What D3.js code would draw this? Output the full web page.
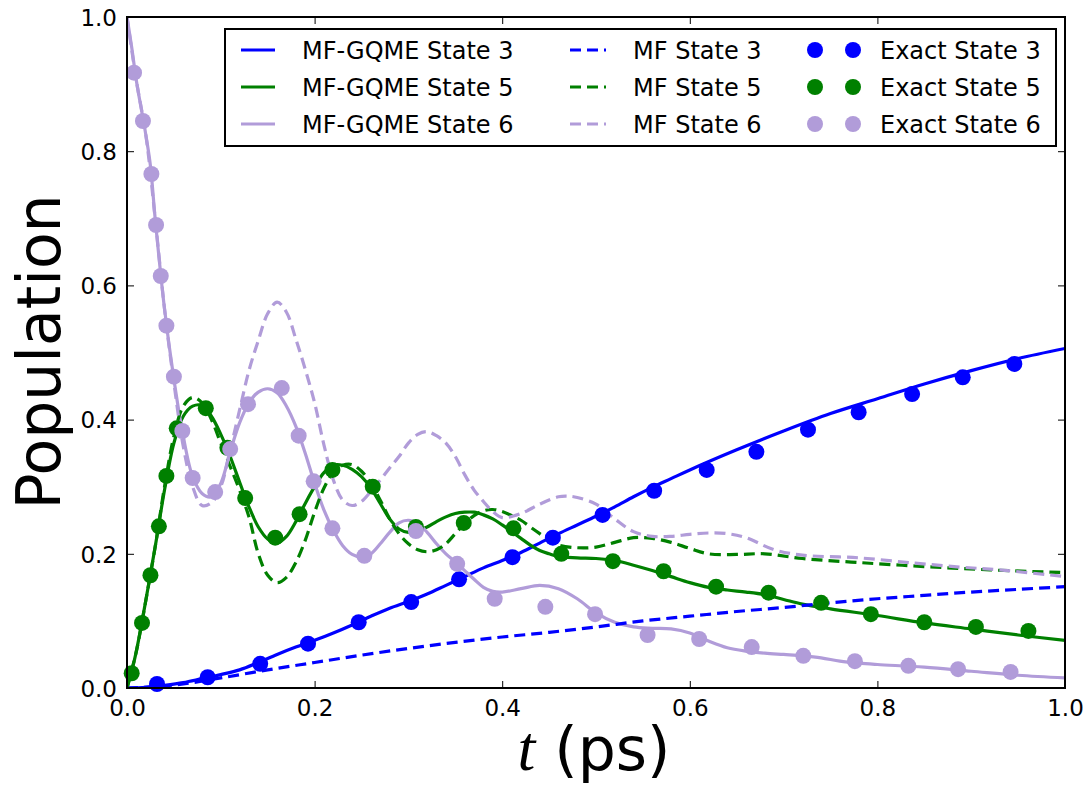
<!DOCTYPE html>
<html>
<head>
<meta charset="utf-8">
<script src="https://cdn.jsdelivr.net/npm/d3@7"></script>
<style>
  html, body { margin: 0; padding: 0; background: #fff; }
  svg text { font-family: "DejaVu Sans", sans-serif; }
</style>
</head>
<body>
<svg id="chart" width="1086" height="790"></svg>
<script>
// ---------------- data ----------------
const xTicks = [0.0, 0.2, 0.4, 0.6, 0.8, 1.0];
const yTicks = [0.0, 0.2, 0.4, 0.6, 0.8, 1.0];

// MF-GQME (solid) curves: [t, population]
const gqme3 = [[0,0],[0.02,0.001],[0.04,0.004],[0.06,0.008],[0.08,0.014],[0.10,0.020],[0.12,0.027],[0.14,0.038],[0.16,0.050],[0.18,0.061],[0.20,0.071],[0.22,0.082],[0.24,0.094],[0.26,0.107],[0.28,0.119],[0.30,0.129],[0.32,0.140],[0.34,0.153],[0.36,0.166],[0.38,0.179],[0.40,0.190],[0.42,0.202],[0.44,0.216],[0.46,0.230],[0.48,0.243],[0.50,0.256],[0.52,0.270],[0.54,0.285],[0.56,0.299],[0.58,0.312],[0.60,0.325],[0.65,0.355],[0.70,0.383],[0.75,0.409],[0.80,0.431],[0.85,0.453],[0.90,0.473],[0.95,0.491],[1.00,0.506]];
const gqme5 = [[0,0],[0.005,0.025],[0.01,0.055],[0.02,0.130],[0.03,0.210],[0.04,0.295],[0.05,0.365],[0.06,0.405],[0.07,0.420],[0.08,0.421],[0.09,0.405],[0.10,0.378],[0.11,0.345],[0.12,0.307],[0.13,0.270],[0.14,0.240],[0.15,0.222],[0.16,0.216],[0.17,0.226],[0.18,0.248],[0.19,0.275],[0.20,0.300],[0.21,0.321],[0.22,0.332],[0.23,0.332],[0.24,0.326],[0.25,0.315],[0.26,0.298],[0.27,0.275],[0.28,0.252],[0.29,0.237],[0.30,0.232],[0.31,0.235],[0.32,0.240],[0.33,0.248],[0.34,0.255],[0.35,0.260],[0.36,0.262],[0.37,0.262],[0.38,0.258],[0.39,0.252],[0.40,0.243],[0.41,0.233],[0.42,0.223],[0.43,0.213],[0.44,0.205],[0.45,0.200],[0.46,0.196],[0.48,0.194],[0.50,0.193],[0.52,0.190],[0.54,0.183],[0.56,0.175],[0.58,0.166],[0.60,0.157],[0.62,0.150],[0.64,0.146],[0.66,0.143],[0.68,0.139],[0.70,0.132],[0.72,0.125],[0.75,0.118],[0.80,0.108],[0.85,0.097],[0.90,0.088],[0.95,0.079],[1.00,0.071]];
const gqme6 = [[0,1.0],[0.005,0.955],[0.01,0.905],[0.02,0.825],[0.025,0.778],[0.03,0.700],[0.04,0.565],[0.05,0.460],[0.06,0.375],[0.07,0.315],[0.08,0.290],[0.09,0.285],[0.10,0.305],[0.11,0.352],[0.12,0.395],[0.13,0.425],[0.14,0.441],[0.15,0.446],[0.16,0.440],[0.17,0.420],[0.18,0.390],[0.19,0.350],[0.20,0.305],[0.21,0.265],[0.22,0.235],[0.23,0.212],[0.24,0.199],[0.25,0.195],[0.26,0.200],[0.27,0.215],[0.28,0.232],[0.29,0.246],[0.30,0.250],[0.31,0.245],[0.32,0.232],[0.33,0.215],[0.34,0.200],[0.35,0.188],[0.36,0.175],[0.37,0.162],[0.38,0.150],[0.39,0.144],[0.40,0.143],[0.42,0.148],[0.44,0.153],[0.46,0.148],[0.48,0.133],[0.50,0.112],[0.52,0.098],[0.54,0.091],[0.56,0.089],[0.58,0.088],[0.60,0.082],[0.62,0.070],[0.64,0.060],[0.66,0.055],[0.68,0.052],[0.70,0.050],[0.72,0.048],[0.74,0.045],[0.76,0.040],[0.78,0.037],[0.80,0.035],[0.85,0.031],[0.90,0.025],[0.95,0.019],[1.00,0.015]];

// MF (dashed) curves
const mf3 = [[0,0],[0.03,0.002],[0.06,0.006],[0.10,0.015],[0.15,0.027],[0.20,0.038],[0.25,0.049],[0.30,0.059],[0.35,0.068],[0.40,0.076],[0.45,0.083],[0.50,0.091],[0.55,0.100],[0.60,0.107],[0.65,0.114],[0.70,0.120],[0.75,0.127],[0.80,0.133],[0.85,0.138],[0.90,0.143],[0.95,0.147],[1.00,0.151]];
const mf5 = [[0,0],[0.01,0.055],[0.02,0.130],[0.03,0.210],[0.04,0.300],[0.05,0.375],[0.06,0.420],[0.07,0.433],[0.08,0.425],[0.09,0.400],[0.10,0.365],[0.11,0.330],[0.12,0.295],[0.13,0.255],[0.14,0.200],[0.15,0.168],[0.16,0.157],[0.17,0.165],[0.18,0.187],[0.19,0.220],[0.20,0.262],[0.21,0.298],[0.22,0.322],[0.23,0.332],[0.24,0.333],[0.25,0.323],[0.26,0.305],[0.27,0.280],[0.28,0.252],[0.29,0.230],[0.30,0.215],[0.31,0.206],[0.32,0.203],[0.33,0.206],[0.34,0.215],[0.35,0.230],[0.36,0.245],[0.37,0.257],[0.38,0.264],[0.39,0.266],[0.40,0.263],[0.41,0.257],[0.42,0.250],[0.43,0.240],[0.44,0.230],[0.45,0.220],[0.46,0.213],[0.48,0.209],[0.50,0.210],[0.52,0.217],[0.54,0.224],[0.56,0.223],[0.58,0.217],[0.60,0.208],[0.62,0.200],[0.65,0.199],[0.68,0.200],[0.72,0.193],[0.78,0.187],[0.85,0.181],[0.92,0.176],[1.00,0.172]];
const mf6 = [[0,1.0],[0.01,0.905],[0.02,0.825],[0.03,0.700],[0.04,0.565],[0.05,0.455],[0.06,0.360],[0.07,0.300],[0.08,0.272],[0.09,0.276],[0.10,0.300],[0.11,0.355],[0.12,0.414],[0.13,0.473],[0.14,0.518],[0.15,0.558],[0.16,0.575],[0.17,0.560],[0.18,0.520],[0.19,0.475],[0.20,0.425],[0.21,0.362],[0.22,0.310],[0.23,0.280],[0.24,0.272],[0.25,0.278],[0.26,0.293],[0.27,0.310],[0.28,0.328],[0.29,0.345],[0.30,0.365],[0.31,0.378],[0.32,0.382],[0.33,0.376],[0.34,0.365],[0.35,0.345],[0.36,0.318],[0.37,0.295],[0.38,0.278],[0.39,0.263],[0.40,0.254],[0.42,0.260],[0.44,0.274],[0.46,0.285],[0.47,0.286],[0.48,0.284],[0.50,0.274],[0.52,0.252],[0.54,0.233],[0.56,0.226],[0.58,0.226],[0.60,0.229],[0.62,0.231],[0.64,0.230],[0.66,0.224],[0.69,0.206],[0.72,0.198],[0.78,0.194],[0.84,0.186],[0.89,0.180],[0.93,0.176],[1.00,0.166]];

// Exact (dots)
const exact3 = [[0.032,0.006],[0.086,0.016],[0.142,0.036],[0.193,0.066],[0.247,0.098],[0.303,0.128],[0.354,0.162],[0.411,0.195],[0.454,0.224],[0.507,0.258],[0.562,0.294],[0.618,0.325],[0.671,0.352],[0.726,0.385],[0.780,0.411],[0.837,0.438],[0.891,0.463],[0.946,0.483]];
const exact5 = [[0.005,0.022],[0.016,0.097],[0.025,0.168],[0.034,0.241],[0.042,0.316],[0.053,0.387],[0.084,0.417],[0.107,0.358],[0.126,0.283],[0.158,0.224],[0.184,0.259],[0.219,0.325],[0.262,0.300],[0.308,0.240],[0.359,0.246],[0.412,0.238],[0.463,0.200],[0.518,0.189],[0.572,0.174],[0.628,0.151],[0.684,0.142],[0.740,0.127],[0.793,0.110],[0.850,0.098],[0.905,0.091],[0.961,0.085]];
const exact6 = [[0.0075,0.917],[0.017,0.845],[0.026,0.766],[0.031,0.690],[0.036,0.614],[0.042,0.540],[0.050,0.464],[0.059,0.383],[0.070,0.313],[0.094,0.292],[0.110,0.356],[0.129,0.423],[0.165,0.447],[0.183,0.376],[0.199,0.308],[0.219,0.238],[0.253,0.197],[0.308,0.234],[0.352,0.185],[0.392,0.133],[0.446,0.121],[0.499,0.110],[0.555,0.079],[0.610,0.073],[0.666,0.061],[0.721,0.048],[0.776,0.040],[0.833,0.033],[0.886,0.028],[0.942,0.024]];

const stateNames = ["State 3", "State 5", "State 6"];
const colors = ["#0000ff", "#008000", "#b19cd9"];

// ---------------- layout ----------------
const svg = d3.select("#chart");
const L = 127, R = 1065, T = 17, B = 688;
const x = d3.scaleLinear().domain([0, 1]).range([L, R]);
const y = d3.scaleLinear().domain([0, 1]).range([B, T]);

const line = d3.line().x(d => x(d[0])).y(d => y(d[1])).curve(d3.curveCatmullRom.alpha(0.5));

svg.append("defs").append("clipPath").attr("id", "clip")
  .append("rect").attr("x", L).attr("y", T).attr("width", R - L).attr("height", B - T);

const plot = svg.append("g").attr("clip-path", "url(#clip)");

const solid = [gqme3, gqme5, gqme6];
const dashed = [mf3, mf5, mf6];
const exact = [exact3, exact5, exact6];
const LW = 3.2;

solid.forEach((d, i) => {
  plot.append("path").datum(d).attr("d", line)
    .attr("fill", "none").attr("stroke", colors[i]).attr("stroke-width", LW);
});
dashed.forEach((d, i) => {
  plot.append("path").datum(d).attr("d", line)
    .attr("fill", "none").attr("stroke", colors[i]).attr("stroke-width", LW)
    .attr("stroke-dasharray", "11,6");
});
const dotsG = svg.append("g");
exact.forEach((d, i) => {
  dotsG.selectAll(null).data(d).enter().append("circle")
    .attr("cx", p => x(p[0])).attr("cy", p => y(p[1])).attr("r", 8)
    .attr("fill", colors[i]);
});

// ---------------- axes ----------------
const fmt = d3.format(".1f");
const tickLen = 7;
const axB = svg.append("g").attr("transform", `translate(0,${B})`)
  .call(d3.axisBottom(x).tickValues(xTicks).tickFormat(fmt).tickSizeInner(-tickLen).tickSizeOuter(0).tickPadding(12));
const axT = svg.append("g").attr("transform", `translate(0,${T})`)
  .call(d3.axisTop(x).tickValues(xTicks).tickFormat("").tickSizeInner(-tickLen).tickSizeOuter(0));
const axL = svg.append("g").attr("transform", `translate(${L},0)`)
  .call(d3.axisLeft(y).tickValues(yTicks).tickFormat(fmt).tickSizeInner(-tickLen).tickSizeOuter(0).tickPadding(10));
const axR = svg.append("g").attr("transform", `translate(${R},0)`)
  .call(d3.axisRight(y).tickValues(yTicks).tickFormat("").tickSizeInner(-tickLen).tickSizeOuter(0));
[axB, axT, axL, axR].forEach(a => {
  a.select(".domain").remove();
  a.selectAll(".tick line").attr("stroke", "#000").attr("stroke-width", 1);
  a.selectAll(".tick text").attr("font-size", 23).attr("font-family", "DejaVu Sans").attr("fill", "#000");
});
axB.selectAll(".tick text").attr("dy", "0.71em");
axL.selectAll(".tick text").attr("dy", "0.36em");

svg.append("rect").attr("x", L).attr("y", T).attr("width", R - L).attr("height", B - T)
  .attr("fill", "none").attr("stroke", "#000").attr("stroke-width", 2);

// axis labels
svg.append("text").attr("transform", "translate(60,352) rotate(-90)")
  .attr("text-anchor", "middle").attr("font-size", 60).text("Population");
const xl = svg.append("text").attr("x", 594).attr("y", 770).attr("text-anchor", "middle").attr("font-size", 60);
xl.append("tspan").attr("font-family", "Liberation Serif").attr("font-style", "italic").attr("font-size", 64).text("t");
xl.append("tspan").text(" (ps)");

// ---------------- legend ----------------
const lg = svg.append("g");
lg.append("rect").attr("x", 225).attr("y", 29).attr("width", 831).attr("height", 117)
  .attr("fill", "#fff").attr("stroke", "#000").attr("stroke-width", 2);
const rowY = [50, 87, 124];
const legendFont = 24;
stateNames.forEach((s, i) => {
  const yy = rowY[i];
  lg.append("line").attr("x1", 241).attr("x2", 275).attr("y1", yy).attr("y2", yy)
    .attr("stroke", colors[i]).attr("stroke-width", LW);
  lg.append("text").attr("x", 302).attr("y", yy + 8.5).attr("font-size", legendFont).text("MF-GQME " + s);
  lg.append("line").attr("x1", 570).attr("x2", 606).attr("y1", yy).attr("y2", yy)
    .attr("stroke", colors[i]).attr("stroke-width", LW).attr("stroke-dasharray", "11,6");
  lg.append("text").attr("x", 633).attr("y", yy + 8.5).attr("font-size", legendFont).text("MF " + s);
  [815, 853].forEach(cx => lg.append("circle").attr("cx", cx).attr("cy", yy).attr("r", 8).attr("fill", colors[i]));
  lg.append("text").attr("x", 880).attr("y", yy + 8.5).attr("font-size", legendFont).text("Exact " + s);
});
</script>
</body>
</html>
